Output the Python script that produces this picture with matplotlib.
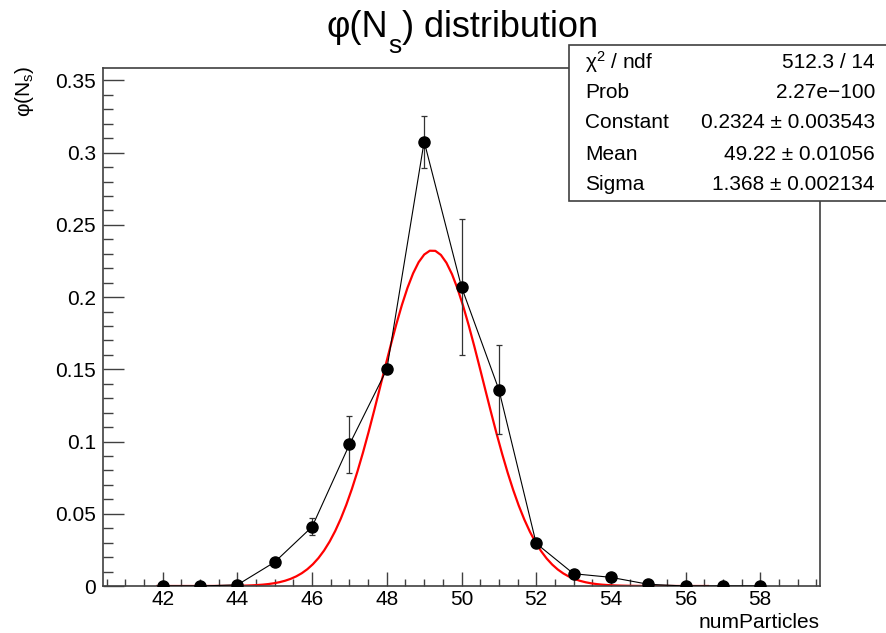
import numpy as np
import matplotlib
matplotlib.use("Agg")
import matplotlib.pyplot as plt
from matplotlib.patches import Rectangle
from matplotlib.ticker import MultipleLocator

plt.rcParams['font.family'] = ['Liberation Sans', 'DejaVu Sans']
plt.rcParams['mathtext.fontset'] = 'custom'
plt.rcParams['mathtext.rm'] = 'Liberation Sans'

# graph points
num_particles = [42, 43, 44, 45, 46, 47, 48, 49, 50, 51, 52, 53, 54, 55, 56, 57, 58]
phi = [0.0, 0.0, 0.0008, 0.0166, 0.041, 0.098, 0.150, 0.3077, 0.207, 0.136, 0.0295,
       0.0085, 0.006, 0.0012, 0.0, 0.0, 0.0]
phi_err = [0.0, 0.0, 0.0005, 0.002, 0.006, 0.0197, 0.002, 0.018, 0.047, 0.031, 0.002,
           0.001, 0.001, 0.0005, 0.0, 0.0, 0.0]

# gaussian fit result (from the stats box)
fit_constant = 0.2324
fit_mean = 49.22
fit_sigma = 1.368
fit_range = (41.85, 56.6)

stats_rows = [
    (r"χ$\mathregular{^2}$ / ndf", "512.3 / 14"),
    ("Prob", "2.27e\u2212100"),
    ("Constant", "0.2324 \u00b1 0.003543"),
    ("Mean", "49.22 \u00b1 0.01056"),
    ("Sigma", "1.368 \u00b1 0.002134"),
]

W, H = 887, 633
frame_color = "#404040"


def px(x, y):
    """pixel position (from top left) to figure fraction"""
    return x / W, 1 - y / H


def draw_title(fig, x_start, baseline):
    # ROOT style title with a deep subscript, put together piece by piece
    renderer = fig.canvas.get_renderer()
    pieces = [("φ(N", 26, 0), ("s", 19, 16), (")", 26, 0), (" distribution", 26, 0)]
    x = x_start
    for text, size, drop in pieces:
        t = fig.text(*px(x, baseline + drop), text, ha="left", va="baseline", fontsize=size)
        x += t.get_window_extent(renderer).width


def main():
    fig = plt.figure(figsize=(W / 100, H / 100), dpi=100)
    ax = fig.add_axes([103 / W, 1 - 586 / H, (820 - 103) / W, (586 - 68) / H])

    # fitted function
    xf = np.linspace(fit_range[0], fit_range[1], 100)
    yf = fit_constant * np.exp(-0.5 * ((xf - fit_mean) / fit_sigma) ** 2)
    ax.plot(xf, yf, color="red", lw=1.6, zorder=2)

    # graph with errors
    ax.plot(num_particles, phi, color="black", lw=0.8, zorder=3)
    ax.errorbar(num_particles, phi, yerr=phi_err, fmt="o", color="black", ms=8,
                ecolor="#333333", elinewidth=0.9, capsize=2.2, capthick=0.9, zorder=4)

    # axis ranges like ROOT's TGraph auto range
    ax.set_xlim(40.4, 59.6)
    ax.set_ylim(0, 0.3586)

    ax.xaxis.set_major_locator(MultipleLocator(2))
    ax.xaxis.set_minor_locator(MultipleLocator(0.5))
    ax.yaxis.set_minor_locator(MultipleLocator(0.01))
    ax.set_yticks([0, 0.05, 0.1, 0.15, 0.2, 0.25, 0.3, 0.35])
    ax.set_yticklabels(["0", "0.05", "0.1", "0.15", "0.2", "0.25", "0.3", "0.35"])

    ax.tick_params(axis="x", which="major", direction="in", length=10, width=1, colors=frame_color,
                   labelcolor="black", labelsize=15, pad=3, top=False)
    ax.tick_params(axis="x", which="minor", direction="in", length=5, width=1, colors=frame_color, top=False)
    ax.tick_params(axis="y", which="major", direction="in", length=15, width=1, colors=frame_color,
                   labelcolor="black", labelsize=15, pad=5, right=False)
    ax.tick_params(axis="y", which="minor", direction="in", length=7.5, width=1, colors=frame_color, right=False)
    for sp in ax.spines.values():
        sp.set_color(frame_color)
        sp.set_linewidth(1.2)

    # axis titles
    fig.text(*px(820, 622), "numParticles", ha="right", va="center", fontsize=15)
    fig.text(*px(25, 66), r"φ(N$\mathregular{_s}$)", rotation=90, ha="center", va="top", fontsize=15)

    # title
    draw_title(fig, 327, 37)

    # stats box
    box = Rectangle(px(569, 201), (892 - 569) / W, (201 - 45) / H, transform=fig.transFigure,
                    facecolor="white", edgecolor=frame_color, lw=1.2, zorder=10)
    fig.add_artist(box)
    row_y = [62, 92, 123, 154, 185]
    for (name, value), y in zip(stats_rows, row_y):
        fig.text(*px(585, y), name, ha="left", va="center", fontsize=15, zorder=11)
        fig.text(*px(875, y), value, ha="right", va="center", fontsize=15, zorder=11)

    fig.savefig("out.png", dpi=100)


if __name__ == "__main__":
    main()
